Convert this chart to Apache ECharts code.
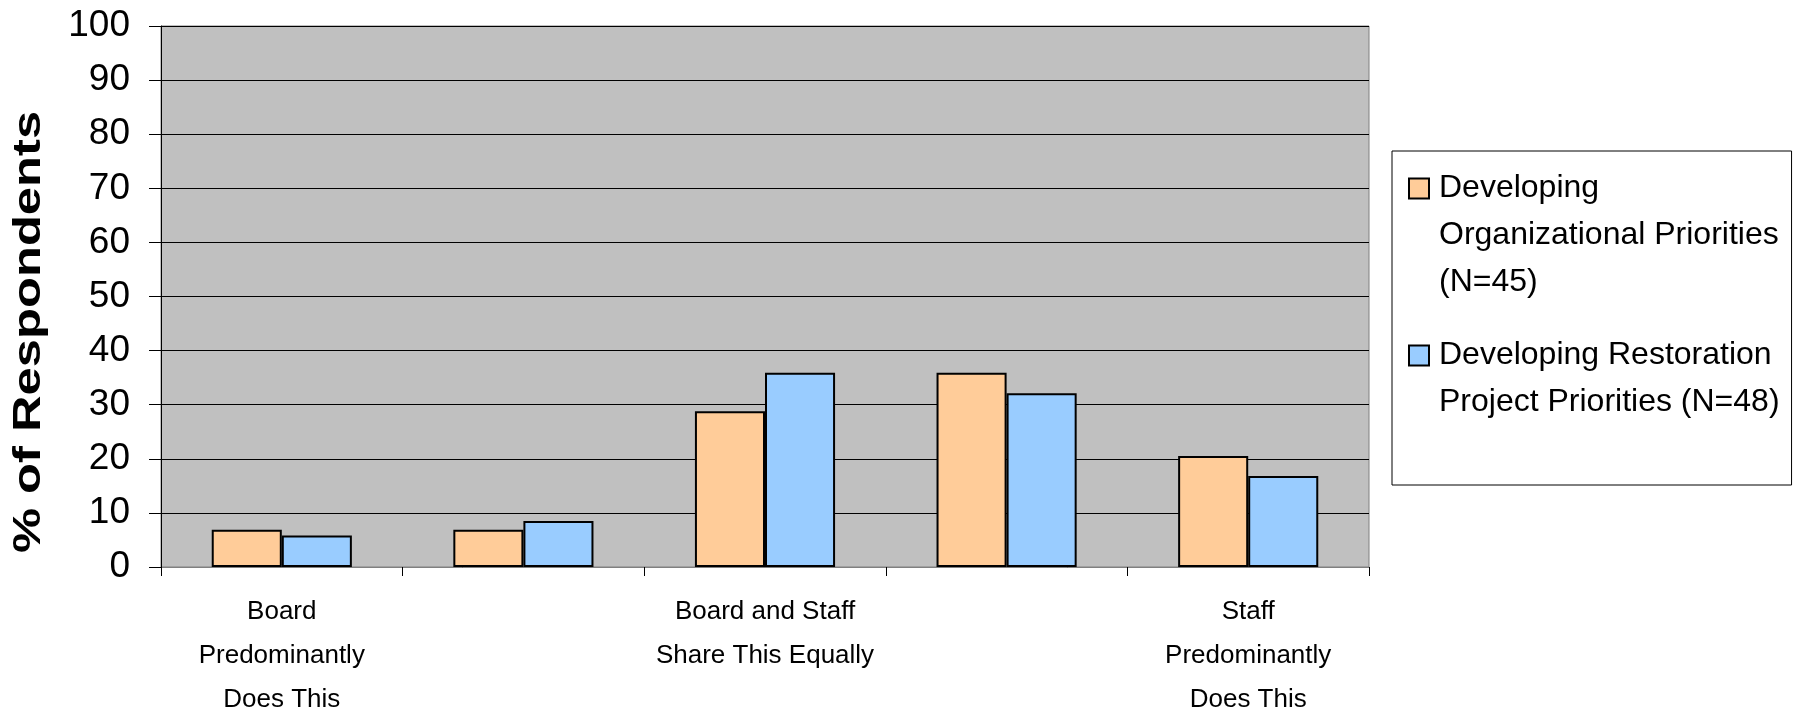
<!DOCTYPE html>
<html>
<head>
<meta charset="utf-8">
<script src="https://cdn.jsdelivr.net/npm/echarts@6/dist/echarts.min.js"></script>
<style>
  html, body { margin: 0; padding: 0; background: #ffffff; }
  #chart { width: 1802px; height: 715px; }
</style>
</head>
<body>
<div id="chart"></div>
<script>
// Who takes the lead in setting priorities (percentage of respondents)
const categories = [
  'Board\nPredominantly\nDoes This',
  '',
  'Board and Staff\nShare This Equally',
  '',
  'Staff\nPredominantly\nDoes This'
];
const seriesNames = [
  'Developing\nOrganizational Priorities\n(N=45)',
  'Developing Restoration\nProject Priorities (N=48)\n'
];
const orgPriorities = [6.9, 6.9, 28.8, 35.9, 20.5];
const projectPriorities = [5.8, 8.5, 35.9, 32.1, 16.8];
const yAxisTitle = '% of Respondents';

const regular = '"Liberation Sans", Arial, sans-serif';

// Legend swatch: a square at the top of a tall box so it sits beside the first text line
const swatch = 'path://M0,13.5h20v20h-20zM0,0M25,141';

const chart = echarts.init(document.getElementById('chart'), null, { renderer: 'canvas' });

chart.setOption({
  animation: false,
  backgroundColor: '#ffffff',
  grid: {
    left: 161, top: 26, right: 433, bottom: 148,
    outerBoundsMode: 'none',
    containLabel: false,
    show: true,
    backgroundColor: '#C0C0C0',
    borderColor: '#808080',
    borderWidth: 1
  },
  legend: {
    orient: 'vertical',
    left: 1392, top: 151,
    padding: [13, 12, 11, 16],
    itemWidth: 25, itemHeight: 141, itemGap: 24,
    icon: swatch,
    backgroundColor: '#ffffff',
    borderColor: '#000000',
    borderWidth: 1,
    textStyle: { fontFamily: regular, fontSize: 32, lineHeight: 47, color: '#000000' },
    data: seriesNames
  },
  xAxis: {
    type: 'category',
    data: categories,
    axisLine: { lineStyle: { color: '#808080', width: 1 } },
    axisTick: { show: true, length: 9, interval: 0, lineStyle: { color: '#000000' } },
    axisLabel: {
      interval: 0, margin: 23,
      fontFamily: regular, fontSize: 26, lineHeight: 44, color: '#000000'
    }
  },
  yAxis: {
    type: 'value',
    min: 0, max: 100, interval: 10,
    axisLine: { show: true, lineStyle: { color: '#000000', width: 1 } },
    axisTick: { show: true, length: 12, lineStyle: { color: '#000000' } },
    axisLabel: { margin: 31, fontFamily: regular, fontSize: 37, color: '#000000' },
    splitLine: { show: true, lineStyle: { color: '#000000', width: 1 } }
  },
  graphic: [{
    type: 'text',
    x: 29, y: 332,
    rotation: Math.PI / 2,
    scaleX: 1.3,
    style: {
      text: yAxisTitle,
      font: 'bold 39px "Liberation Sans", Arial, sans-serif',
      fill: '#000000',
      textAlign: 'center',
      textVerticalAlign: 'middle'
    }
  }],
  series: [
    {
      name: seriesNames[0],
      type: 'bar',
      data: orgPriorities,
      barGap: '0%',
      barCategoryGap: '42%',
      itemStyle: { color: '#FFCC99', borderColor: '#000000', borderWidth: 2 }
    },
    {
      name: seriesNames[1],
      type: 'bar',
      data: projectPriorities,
      barGap: '0%',
      barCategoryGap: '42%',
      itemStyle: { color: '#99CCFF', borderColor: '#000000', borderWidth: 2 }
    }
  ]
});
</script>
</body>
</html>
